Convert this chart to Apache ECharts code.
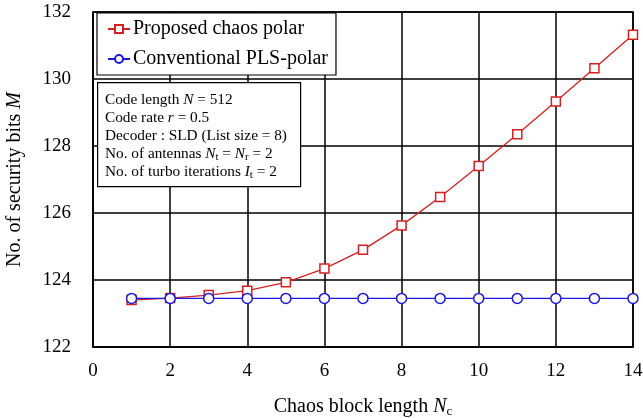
<!DOCTYPE html>
<html><head><meta charset="utf-8">
<script src="https://cdn.jsdelivr.net/npm/echarts@6/dist/echarts.min.js"></script>
<style>html,body{margin:0;padding:0;background:#fff}#c{width:643px;height:418px}</style>
</head><body><div id="c"></div>
<script>
const xValues = [1,2,3,4,5,6,7,8,9,10,11,12,13,14];
const proposed = [123.40,123.46,123.55,123.68,123.93,124.34,124.90,125.63,126.48,127.40,128.35,129.33,130.32,131.32];
const conventional = [123.45,123.45,123.45,123.45,123.45,123.45,123.45,123.45,123.45,123.45,123.45,123.45,123.45,123.45];
const seriesNames = ['Proposed chaos polar','Conventional PLS-polar'];
const FONT = '"Liberation Serif","Times New Roman",serif';

const chart = echarts.init(document.getElementById('c'));
const pair = (xs, ys) => xs.map((x,i)=>[x, ys[i]]);
const AF = 15.3;
const sub = {fontFamily: FONT, fontSize: 11, padding:[7,0,0,0], color:'#000'};
const it = {fontFamily: FONT, fontSize: AF, fontStyle:'italic', color:'#000'};
const nrm = {fontFamily: FONT, fontSize: AF, color:'#000'};

chart.setOption({
  animation: false,
  grid: {left: 93, right: 10, top: 12, bottom: 71, containLabel: false, outerBoundsMode: 'none',
         show: true, borderColor:'#000', borderWidth: 1.5},
  xAxis: {
    type: 'value', min: 0, max: 14, interval: 2,
    axisLine: {lineStyle: {color:'#000', width: 1.5}},
    axisTick: {show: false},
    axisLabel: {color:'#000', fontFamily: FONT, fontSize: 19, margin: 15},
    splitLine: {lineStyle: {color:'#000', width: 1.5}},
    name: '{a|Chaos block length }{i|N}{s|c}',
    nameLocation: 'middle', nameGap: 48,
    nameTextStyle: {rich: {
      a: {fontFamily: FONT, fontSize: 20, color:'#000'},
      i: {fontFamily: FONT, fontSize: 20, fontStyle:'italic', color:'#000'},
      s: {fontFamily: FONT, fontSize: 13, color:'#000', padding:[10,0,0,0]}
    }}
  },
  yAxis: {
    type: 'value', min: 122, max: 132, interval: 2,
    axisLine: {lineStyle: {color:'#000', width: 1.5}},
    axisTick: {show: false},
    axisLabel: {color:'#000', fontFamily: FONT, fontSize: 19, margin: 22},
    splitLine: {lineStyle: {color:'#000', width: 1.5}},
    name: '{a|No. of security bits }{i|M}',
    nameLocation: 'middle', nameGap: 68, nameRotate: 90,
    nameTextStyle: {rich: {
      a: {fontFamily: FONT, fontSize: 20, color:'#000'},
      i: {fontFamily: FONT, fontSize: 20, fontStyle:'italic', color:'#000'}
    }}
  },
  legend: {
    left: 97, top: 13, orient: 'vertical',
    backgroundColor: '#fff', borderColor: '#000', borderWidth: 1.2, borderRadius: 0,
    padding: [6, 8, 6, 10], itemGap: 10, itemWidth: 22, itemHeight: 10,
    textStyle: {fontFamily: FONT, fontSize: 20, color:'#000', padding:[0,0,0,-2]},
    data: seriesNames
  },
  series: [
    {name: seriesNames[0], type: 'line', data: pair(xValues, proposed),
     symbol: 'rect', symbolSize: 9, color: '#d42020',
     lineStyle: {width: 1.3, color: '#d42020'},
     itemStyle: {color:'#fff', borderColor:'#d42020', borderWidth: 1.5}, z: 3},
    {name: seriesNames[1], type: 'line', data: pair(xValues, conventional),
     symbol: 'circle', symbolSize: 10, color: '#1a1adf',
     lineStyle: {width: 1.3, color: '#1a1adf'},
     itemStyle: {color:'#fff', borderColor:'#1a1adf', borderWidth: 1.5}, z: 4}
  ],
  graphic: [
    {type: 'rect', left: 97, top: 82, z: 100,
     shape: {width: 203, height: 104},
     style: {fill:'#fff', stroke:'#000', lineWidth: 1.2}},
    {type: 'text', left: 105, top: 91, z: 101,
     style: {
       text: [
         '{n|Code length }{i|N}{n| = 512}',
         '{n|Code rate }{i|r}{n| = 0.5}',
         '{n|Decoder : SLD (List size = 8)}',
         '{n|No. of antennas }{i|N}{s|t}{n| = }{i|N}{s|r}{n| = 2}',
         '{n|No. of turbo iterations }{i|I}{s|t}{n| = 2}'
       ].join('\n'),
       rich: {n: nrm, i: it, s: sub},
       lineHeight: 18, fontFamily: FONT, fontSize: AF, fill:'#000'
     }}
  ]
});
</script></body></html>
